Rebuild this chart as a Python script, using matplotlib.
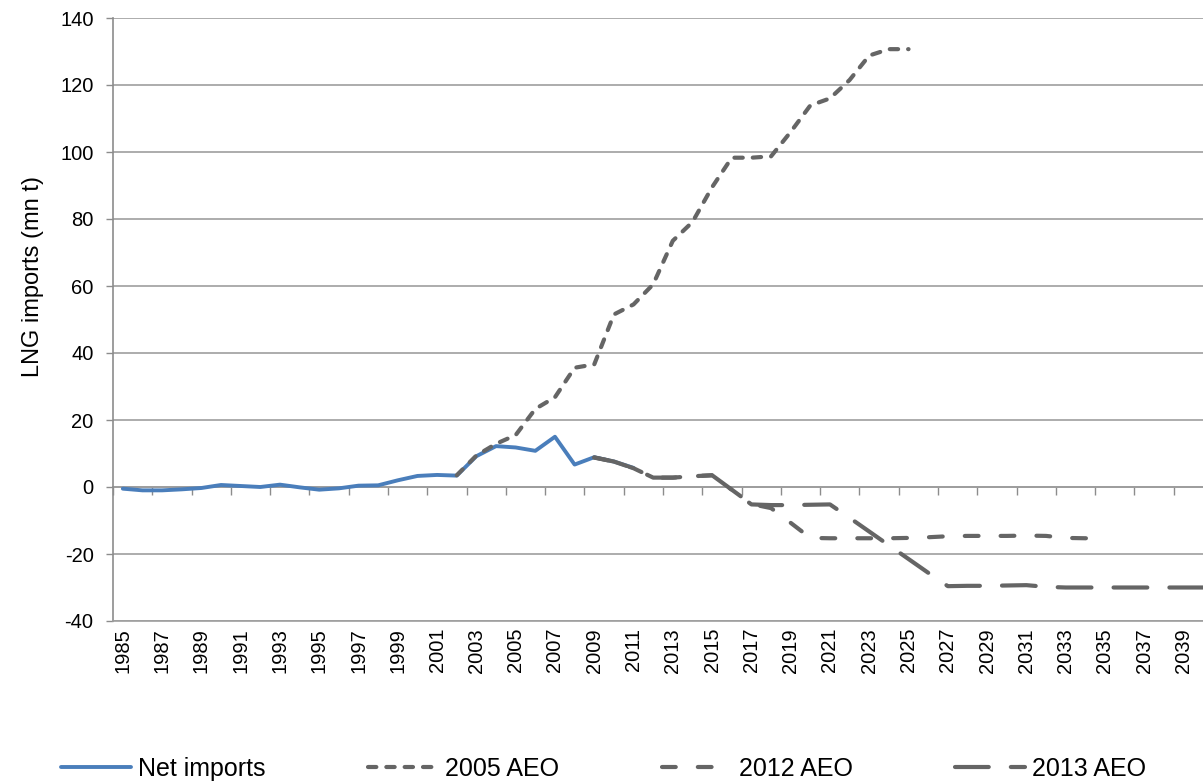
import matplotlib

matplotlib.use("Agg")
import matplotlib.pyplot as plt

plt.rcParams["font.family"] = ["Liberation Sans", "DejaVu Sans"]
plt.rcParams["axes.unicode_minus"] = False

# categories
years = list(range(1985, 2041))
label_years = years[::2]

# series values (mn t), each starting at its own year
net_start = 1985
net_imports = [
    -0.5, -1.0, -1.0, -0.7, -0.3, 0.6, 0.3, 0.0, 0.7, -0.1,
    -0.8, -0.4, 0.4, 0.5, 2.0, 3.3, 3.6, 3.4, 9.2, 12.2,
    11.8, 10.8, 15.0, 6.7, 8.9, 7.6, 5.7,
]

aeo2005_start = 2002
aeo2005 = [
    3.5, 9.4, 12.9, 15.5, 23.3, 26.8, 35.6, 36.6, 51.5, 54.5,
    60.5, 73.5, 79.1, 89.5, 98.3, 98.3, 98.7, 106.0, 113.9, 116.0,
    121.5, 128.8, 130.7, 130.7,
]

aeo2012_start = 2009
aeo2012 = [
    8.8, 7.6, 5.6, 2.8, 2.8, 3.2, 3.5, -0.8, -5.1, -6.3,
    -10.7, -15.2, -15.3, -15.3, -15.3, -15.3, -15.2, -15.0, -14.7, -14.6,
    -14.6, -14.6, -14.5, -14.6, -15.2, -15.3, -15.3,
]

aeo2013_start = 2009
aeo2013 = [
    8.8, 7.6, 5.6, 2.8, 2.8, 3.2, 3.5, -0.8, -5.2, -5.4,
    -5.4, -5.3, -5.2, -9.2, -13.3, -17.4, -21.5, -25.6, -29.6, -29.5,
    -29.5, -29.4, -29.3, -29.8, -30.0, -30.0, -30.0, -30.0, -30.0, -30.0,
    -30.0, -30.0,
]

y_min, y_max = -40, 140
blue = "#4a7ebb"
dark = "#656565"
axis_gray = "#8c8c8c"
grid_gray = "#9e9e9e"
tick_size = 14.5


def _positions(start, values):
    first = years.index(start)
    return list(range(first, first + len(values)))


fig = plt.figure(figsize=(12.03, 7.83), dpi=100)
ax = fig.add_axes([113 / 1203, 162 / 783, 1100 / 1203, 603 / 783])

line_net, = ax.plot(_positions(net_start, net_imports), net_imports,
                    color=blue, linewidth=2.8, solid_capstyle="round",
                    solid_joinstyle="round", label="Net imports")
line_05, = ax.plot(_positions(aeo2005_start, aeo2005), aeo2005,
                   color=dark, linewidth=3.0, linestyle=(0, (2.0, 2.4)),
                   dash_capstyle="round", dash_joinstyle="round", label="2005 AEO")
line_12, = ax.plot(_positions(aeo2012_start, aeo2012), aeo2012,
                   color=dark, linewidth=3.0, linestyle=(0, (3.3, 5.3)),
                   dash_capstyle="round", dash_joinstyle="round", label="2012 AEO")
line_13, = ax.plot(_positions(aeo2013_start, aeo2013), aeo2013,
                   color=dark, linewidth=3.0, linestyle=(0, (8.1, 5.3)),
                   dash_capstyle="round", dash_joinstyle="round", label="2013 AEO")

ax.set_xlim(-0.5, len(years) - 0.5)
ax.set_ylim(y_min, y_max)
ax.set_yticks(range(y_min, y_max + 1, 20))
ax.yaxis.grid(True, color=grid_gray, linewidth=1.2)
ax.set_axisbelow(True)
ax.tick_params(axis="y", direction="out", length=5, width=1, color=axis_gray,
               labelsize=tick_size, pad=9)

ax.set_xticks([years.index(y) for y in label_years])
ax.set_xticklabels([str(y) for y in label_years], rotation=90)
ax.tick_params(axis="x", length=0, pad=5, labelsize=tick_size)

for side in ("top", "right"):
    ax.spines[side].set_visible(False)
ax.spines["left"].set_color(axis_gray)
ax.spines["left"].set_linewidth(1.2)
ax.spines["bottom"].set_color(grid_gray)
ax.spines["bottom"].set_linewidth(1.2)

# category axis crossing at zero, ticks between every second category
zero_axis = ax.secondary_xaxis((0 - y_min) / (y_max - y_min))
zero_axis.set_xticks([i - 0.5 for i in range(0, len(years) + 1, 2)])
zero_axis.tick_params(direction="out", length=5.5, width=1, color=axis_gray,
                      labelbottom=False)
zero_axis.spines["bottom"].set_color(axis_gray)
zero_axis.spines["bottom"].set_linewidth(1.2)

ax.set_ylabel("LNG imports (mn t)", fontsize=17)
ax.yaxis.set_label_coords(-0.063, (783 - 276 - 162) / 603)

fig.legend([line_net, line_05, line_12, line_13],
           ["Net imports", "2005 AEO", "2012 AEO", "2013 AEO"],
           loc="center", bbox_to_anchor=(0.502, 1 - 769 / 783), ncol=4,
           frameon=False, fontsize=18, handlelength=2.8, handletextpad=0.28,
           columnspacing=4.1)

fig.savefig("out.png", dpi=100)
plt.close(fig)
